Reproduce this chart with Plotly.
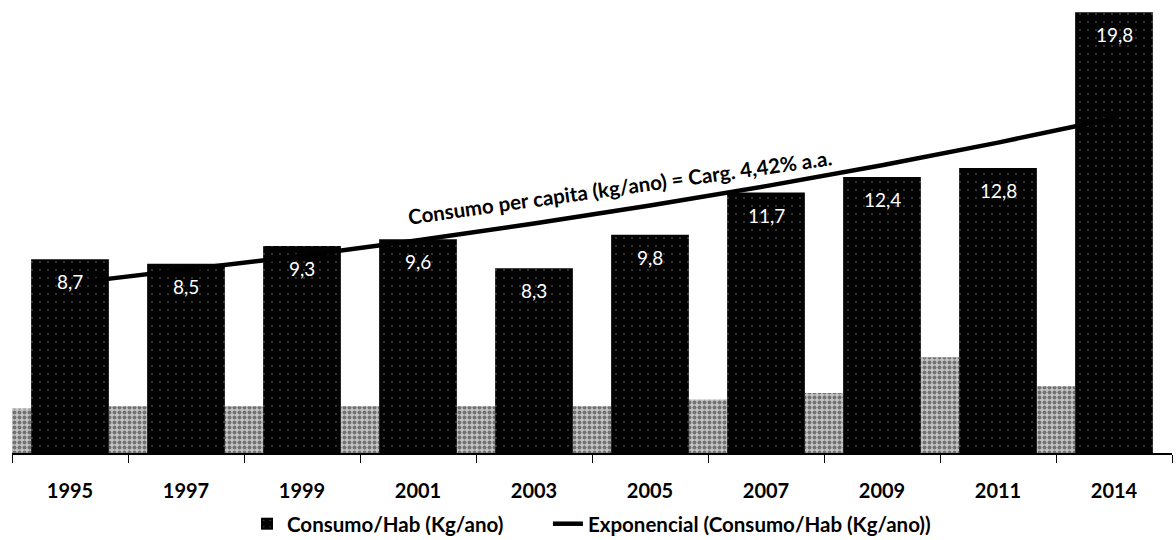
import numpy as np
import plotly.graph_objects as go

# Consumption per inhabitant (kg/year)
years = ["1995", "1997", "1999", "2001", "2003", "2005", "2007", "2009", "2011", "2014"]
consumo = [8.7, 8.5, 9.3, 9.6, 8.3, 9.8, 11.7, 12.4, 12.8, 19.8]
# heights of the soft shadow blocks cast beside each bar
shadow_heights = [2.0, 2.1, 2.1, 2.1, 2.1, 2.1, 2.4, 2.7, 4.3, 3.0]

trend_label = "Consumo per capita (kg/ano) = Carg. 4,42% a.a."

# exponential trendline (least squares on log values, like a spreadsheet trendline)
idx = np.arange(1, len(consumo) + 1)
slope, intercept = np.polyfit(idx, np.log(consumo), 1)
trend = np.exp(intercept + slope * idx)

FONT = "Lato"
legend_font = dict(family=FONT, size=20.5, color="black", weight="bold")

fig = go.Figure()

fig.add_bar(
    x=years, y=shadow_heights,
    offset=-0.665, width=0.33,
    marker=dict(color="#c4c4c4", line_width=0,
                pattern=dict(shape=".", fgcolor="#202020", size=5, solidity=0.5)),
    showlegend=False, hoverinfo="skip",
)

fig.add_bar(
    x=years, y=consumo,
    offset=-0.335, width=0.67,
    name="Consumo/Hab (Kg/ano)",
    legend="legend",
    marker=dict(color="#030303", line_width=0,
                pattern=dict(shape=".", fgcolor="#8c8c8c", size=8, solidity=0.04)),
)

fig.add_scatter(
    x=years, y=trend, mode="lines",
    line=dict(color="black", width=4.5),
    name="Exponencial (Consumo/Hab (Kg/ano))",
    legend="legend2",
)

# value labels inside the top of each bar (category index positions)
for i, v in enumerate(consumo):
    fig.add_annotation(
        x=i, y=v, xref="x", yref="y",
        text=f"{v:.1f}".replace(".", ","),
        showarrow=False, yanchor="top", yshift=-9,
        font=dict(family=FONT, size=19, color="white"),
    )

# growth-rate label riding along the trendline
fig.add_annotation(
    xref="paper", yref="paper", x=0.524, y=0.6,
    text=trend_label, showarrow=False, textangle=-8,
    font=dict(family=FONT, size=20.5, color="black", weight="bold"),
)

fig.update_layout(
    width=1176, height=540,
    margin=dict(l=12, r=4, t=10, b=87, autoexpand=False),
    paper_bgcolor="white", plot_bgcolor="white",
    barmode="overlay",
    showlegend=True,
    legend=dict(
        orientation="h", x=0.2026, xanchor="left", y=-0.160, yanchor="middle",
        font=legend_font, itemwidth=30, bgcolor="rgba(0,0,0,0)",
    ),
    legend2=dict(
        orientation="h", x=0.462, xanchor="left", y=-0.160, yanchor="middle",
        font=legend_font, itemwidth=30, bgcolor="rgba(0,0,0,0)",
    ),
    xaxis=dict(
        type="category", range=[-0.5, 9.5],
        showline=True, linecolor="black", linewidth=1.5,
        ticks="outside", tickson="boundaries", ticklen=8, tickcolor="black",
        ticklabelstandoff=19,
        tickfont=dict(family=FONT, size=20, color="black", weight="bold"),
        showgrid=False, zeroline=False,
    ),
    yaxis=dict(visible=False, range=[0, 19.9]),
)

fig.write_html("out.html")
